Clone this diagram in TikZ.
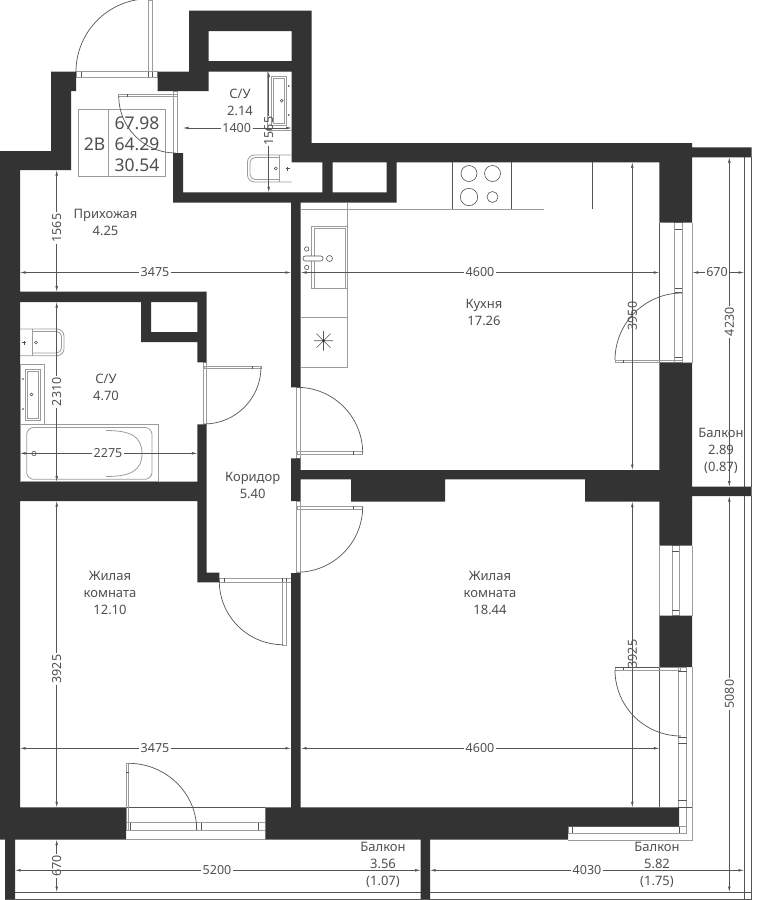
\documentclass[tikz,border=0pt]{standalone}
\usepackage{fontspec}
\setmainfont{Noto Sans}
\usetikzlibrary{arrows.meta}
\definecolor{wl}{HTML}{333333}
\definecolor{ln}{HTML}{555555}
\definecolor{lt}{HTML}{9C9C9C}
\definecolor{tx}{HTML}{505050}
\tikzset{
  wall/.style={fill=wl},
  thin line/.style={draw=ln,line width=0.6pt},
  light/.style={draw=lt,line width=0.8pt},
  swing/.style={draw=ln,line width=0.7pt},
  dimline/.style={draw=ln,line width=0.55pt},
  dimtip/.style={-{Latex[length=5.5pt,width=2.6pt]}},
  lab/.style={text=tx,font=\fontsize{13}{15}\selectfont,inner sep=0pt,align=center},
  dimlab/.style={text=tx,font=\fontsize{12.5}{14}\selectfont,inner sep=0pt},
  info/.style={text=tx,font=\fontsize{17.5}{20}\selectfont,inner sep=0pt},
}
% horizontal dimension: y, x1, x2, label x, half gap, text
\newcommand\hdim[6]{%
  \draw[dimline,dimtip] (#4-#5,#1) -- (#2,#1);
  \draw[dimline,dimtip] (#4+#5,#1) -- (#3,#1);
  \node[dimlab] at (#4,#1) {#6};}
% vertical dimension: x, y1, y2, label y, half gap, text
\newcommand\vdim[6]{%
  \draw[dimline,dimtip] (#1,#4-#5) -- (#1,#2);
  \draw[dimline,dimtip] (#1,#4+#5) -- (#1,#3);
  \node[dimlab,rotate=90] at (#1,#4) {#6};}
\begin{document}
\begin{tikzpicture}[x=1pt,y=-1pt]
\useasboundingbox (0,0) rectangle (767,900);
\fill[white] (0,0) rectangle (767,900);
\clip (0,0) rectangle (767,900);

% balcony outer lines
\draw[thin line] (744.3,157) -- (744.3,486.7) (744.3,496) -- (744.3,899);
\draw[thin line] (751.5,157) -- (751.5,486.7) (751.5,496) -- (751.5,899.5);
\draw[thin line] (5,892) -- (751.5,892);
\draw[thin line] (5,899.3) -- (751.5,899.3);

% entrance door
\draw[light] (76,71.8) rectangle (157.7,77);
\draw[thin line] (81,71.8) -- (81,77) (148.3,71.8) -- (148.3,77) (152.3,71.8) -- (152.3,77);
\draw[light] (148.3,0) rectangle (152.3,71.8);
\draw[swing] (76,71.8) arc[start angle=180,end angle=270,radius=73];

% door C/U 2.14
\draw[light] (118.7,94) rectangle (177,96.8);
\draw[thin line] (127,94) -- (127,96.8);
\draw[light] (173.3,91) rectangle (177,153);

% door C/U 4.70
\draw[light] (203.5,362.3) rectangle (206.7,424.3);
\draw[light] (204,366) rectangle (261,368.8);
\draw[thin line] (252.5,366) -- (252.5,368.8);
\draw[swing] (261,367) arc[start angle=0,end angle=90,radius=57];

% door kitchen
\draw[light] (296.7,387.3) rectangle (300.7,458.3);
\draw[light] (297,451) rectangle (362.7,454.5);
\draw[thin line] (353,451) -- (353,454.5);
\draw[swing] (297,387.3) arc[start angle=270,end angle=360,radius=65.7];

% door room 18.44
\draw[light] (296.7,501) rectangle (300.7,573);
\draw[light] (297,506) rectangle (362.7,509);
\draw[thin line] (353,506) -- (353,509);
\draw[swing] (362.7,506.5) arc[start angle=0,end angle=90,radius=65.7];

% door room 12.10
\draw[light] (219.3,578.3) rectangle (291,582.3);
\draw[thin line] (224,578.3) -- (224,582.3) (282.7,578.3) -- (282.7,582.3) (286.7,578.3) -- (286.7,582.3);
\draw[light] (282.7,582.3) rectangle (286.7,645);
\draw[swing] (219.3,581) arc[start angle=180,end angle=90,radius=63.7];

% kitchen window + door
\draw[thin line] (659.3,222.7) -- (659.3,362.7);
\draw[light] (692,222.7) -- (692,362.7);
\draw[light] (674.7,222.7) rectangle (682.3,362.7);
\draw[thin line] (674.7,292) -- (682.3,292) (674.7,288) -- (682.3,288);
\draw[thin line] (674.7,229) -- (682.3,229) (674.7,357) -- (682.3,357);
\draw[light] (615,360) rectangle (682.3,362.7);
\draw[thin line] (623,360) -- (623,362.7);
\draw[swing] (615,360) arc[start angle=180,end angle=270,radius=67];

% room right window
\draw[light] (692,545.7) -- (692,615.7) (659.3,545.7) -- (659.3,615.7);
\draw[light] (672.3,545.7) rectangle (679,615.7);
\draw[thin line] (672.3,551) -- (679,551) (672.3,610) -- (679,610);

% room right door and glazing
\draw[thin line] (659.3,667) -- (659.3,807);
\draw[light] (678.3,667) rectangle (686.7,826.7);
\draw[thin line] (678.3,671) -- (686.7,671) (678.3,737) -- (686.7,737) (678.3,743) -- (686.7,743) (678.3,800) -- (686.7,800) (678.3,807) -- (692,807);
\draw[light] (615,667) rectangle (680,670);
\draw[thin line] (623,667) -- (623,670);
\draw[thin line] (615,667) -- (659.3,667);
\draw[swing] (615,670) arc[start angle=180,end angle=90,radius=66];
\draw[light] (692,667) -- (692,840) -- (568,840);
\draw[light] (568,826.7) rectangle (686.7,833.3);
\draw[thin line] (572,826.7) -- (572,833.3) (679,826.7) -- (679,833.3);

% bottom window and door
\draw[thin line] (126,807.3) -- (265.7,807.3);
\draw[light] (126,822.7) rectangle (265.7,830);
\draw[light] (126,839.7) -- (265.7,839.7) -- (265.7,807.3);
\draw[thin line] (130.7,822.7) -- (130.7,830) (196.7,822.7) -- (196.7,830) (201.3,822.7) -- (201.3,830) (258.3,822.7) -- (258.3,830);
\draw[light] (126,763.3) rectangle (128.5,830);
\draw[thin line] (126,772) -- (128.5,772);
\draw[swing] (128.3,763.3) arc[start angle=270,end angle=360,x radius=68.4,y radius=66.7];

% walls
\fill[wall]
 (0,151) rectangle (20,807.5) (0,151) rectangle (71,170) (51,71.5) rectangle (71,151) (51,71.5) rectangle (76,91)
 (189,10.5) rectangle (311.7,31) (189,10.5) rectangle (208.7,71.5) (291.7,10.5) rectangle (311.7,143) (189,61) rectangle (311.7,71.5) (157.7,71.5) rectangle (208.7,91)
 (291.7,143) rectangle (692,162.3)
 (173,153) rectangle (183,202.7) (173,192.3) rectangle (396.7,202.7) (322.3,162) rectangle (332.7,192.3) (386.7,162) rectangle (396.7,202.7)
 (291,202.7) rectangle (300.7,387.3) (291,458.3) rectangle (300.7,501) (291,573) rectangle (300.7,807.5)
 (659.3,143) rectangle (692,222.7) (659.3,362.7) rectangle (692,545.7) (659.3,615.7) rectangle (692,667)
 (291,470) rectangle (659.3,479.3) (351,479.3) rectangle (445,501.7) (585,479.3) rectangle (659.3,501.7)
 (692,147.3) rectangle (751.7,157.3) (692,486.7) rectangle (751.7,496)
 (0,291.7) rectangle (206.7,302) (141,302) rectangle (151,342) (141,332) rectangle (206.7,342) (197.3,302) rectangle (206.7,362.3)
 (197.3,424.3) rectangle (206.7,501) (0,481.7) rectangle (206.7,501) (197.3,501) rectangle (206.7,582.3) (197.3,572.7) rectangle (219.3,582.3)
 (0,807.3) rectangle (126,839.7) (265.7,807.3) rectangle (679,826.7) (265.7,826.7) rectangle (568,839.7)
 (5,839.7) rectangle (15,899) (420.7,839.7) rectangle (430,899);

% kitchen fittings
\draw[light] (300.7,209) -- (544,209);
\draw[light] (347.3,202.7) -- (347.3,367) -- (300.7,367);
\draw[light] (300.7,317.3) -- (347.3,317.3);
\draw[light] (311.7,226) rectangle (347.3,288.3);
\draw[light] (314.3,228.5) rectangle (345,288.3);
\draw[thin line,fill=white,rounded corners=2.2pt] (303,256) rectangle (323,261);
\draw[thin line] (306.7,249) circle (2.2) (306.7,267.5) circle (2.2) (329.5,258.5) circle (3);
\draw[thin line] (323.5,331) -- (323.5,350.5) (314,340.7) -- (333,340.7) (316.5,333.7) -- (330.5,347.7) (330.5,333.7) -- (316.5,347.7);
\fill[wl] (323.5,340.7) circle (1.3);
\draw[thin line] (452,162.3) -- (452,209) (511.3,162.3) -- (511.3,209) (592.3,162.3) -- (592.3,209);
\draw[thin line] (469,173.5) circle (8) (492.5,173.5) circle (8) (469,197) circle (8.7) (492.5,197) circle (5.5);

% C/U 2.14 fittings
\draw[light] (267.7,71.5) -- (267.7,130) -- (291.7,130);
\draw[light] (271,76) rectangle (286,125.7);
\draw[light] (273,78) rectangle (284,123.5);
\fill[wl] (288.7,86) circle (0.9) (288.7,115) circle (0.9);
\draw[thin line] (281.7,100.7) circle (1.4);
\draw[light,rounded corners=7pt] (291.7,155) -- (247.5,155) -- (247.5,182) -- (291.7,182);
\draw[light,rounded corners=5pt] (279.3,157.5) -- (250,157.5) -- (250,179.5) -- (279.3,179.5);
\draw[light] (279.3,155) -- (279.3,182);
\draw[thin line] (275.7,168.5) circle (1.5);
\draw[thin line] (285.5,168.5) -- (289.5,168.5) (287.5,166.5) -- (287.5,170.5);

% C/U 4.70 fittings
\draw[light,rounded corners=7pt] (20,329) -- (64,329) -- (64,355.7) -- (20,355.7);
\draw[light,rounded corners=5pt] (32.3,331.5) -- (61.5,331.5) -- (61.5,353) -- (32.3,353);
\draw[light] (32.3,329) -- (32.3,355.7);
\draw[thin line] (36,342.5) circle (1.5);
\draw[thin line] (22,342.5) -- (26,342.5) (24,340.5) -- (24,344.5);
\draw[light] (20,364.3) rectangle (44.3,424.3);
\draw[light] (25.3,369) rectangle (40.7,420);
\draw[light] (27.5,371) rectangle (38.5,418);
\fill[wl] (23,379) circle (0.9) (23,409) circle (0.9);
\draw[thin line] (31.5,394.5) circle (1.5);
\draw[light] (20,424.3) rectangle (158.7,481.7);
\draw[light,rounded corners=7pt] (26.7,427.5) rectangle (152,479.3);
\draw[light] (106,430.5) .. controls (130,430.5) and (142,436) .. (142,453.5) .. controls (142,471) and (130,476.5) .. (106,476.5);
\draw[thin line] (34,453.5) circle (2.2);

% info box
\draw[light] (78,109) rectangle (165.3,176.7);
\draw[light] (108.7,109) -- (108.7,176.7);
\node[info] (bt) at (94.5,144) {2В};
\node[info] (a1) at (137,123) {67.98};
\node[info] (a2) at (137,144) {64.29};
\node[info] (a3) at (137,165) {30.54};
% door swing over the box
\draw[swing] (118.7,96) arc[start angle=180,end angle=90,radius=57];

% dimensions
\vdim{56.7}{170}{291.7}{228}{16}{1565}
\hdim{272.5}{20}{291}{155}{16}{3475}
\hdim{128}{183}{291.7}{236.7}{16}{1400}
\vdim{268.7}{71.5}{192.3}{131}{15}{1565}
\hdim{272.5}{301}{659.3}{480}{16}{4600}
\hdim{272.5}{692.5}{744}{717}{12}{670}
\vdim{632.3}{162.3}{470}{316}{0}{3950}
\vdim{729.3}{157.3}{486.7}{321.7}{16}{4230}
\vdim{56.7}{302}{481.7}{391.7}{16}{2310}
\hdim{453.3}{20}{197.3}{108}{16}{2275}
\vdim{56.7}{501}{807.3}{669}{16}{3925}
\hdim{748.3}{20}{291}{155}{16}{3475}
\hdim{748.3}{301}{659.3}{480}{16}{4600}
\vdim{632.3}{501.7}{807.3}{654}{0}{3925}
\vdim{729.3}{496}{892}{694}{16}{5080}
\vdim{56.7}{839.7}{892}{866}{12}{670}
\hdim{870.3}{15}{420.7}{217}{16}{5200}
\hdim{870.3}{430}{744}{587}{16}{4030}

% room labels
\node[lab] (r1) at (105.5,222.5) {Прихожая\\[2pt]4.25};
\node[lab] (r2) at (240,102.5) {С/У\\[2pt]2.14};
\node[lab] (r3) at (484,312.5) {Кухня\\[2pt]17.26};
\node[lab] (r4) at (106,387.5) {С/У\\[2pt]4.70};
\node[lab] (r5) at (252.7,485.5) {Коридор\\[2pt]5.40};
\node[lab] (r6) at (110,593) {Жилая\\[2pt]комната\\[2pt]12.10};
\node[lab] (r7) at (490,593) {Жилая\\[2pt]комната\\[2pt]18.44};
\node[lab] (r8) at (721,450.5) {Балкон\\[2pt]2.89\\[2pt](0.87)};
\node[lab] (r9) at (383,864.5) {Балкон\\[2pt]3.56\\[2pt](1.07)};
\node[lab] (r10) at (657,865) {Балкон\\[2pt]5.82\\[2pt](1.75)};
\end{tikzpicture}
\end{document}
